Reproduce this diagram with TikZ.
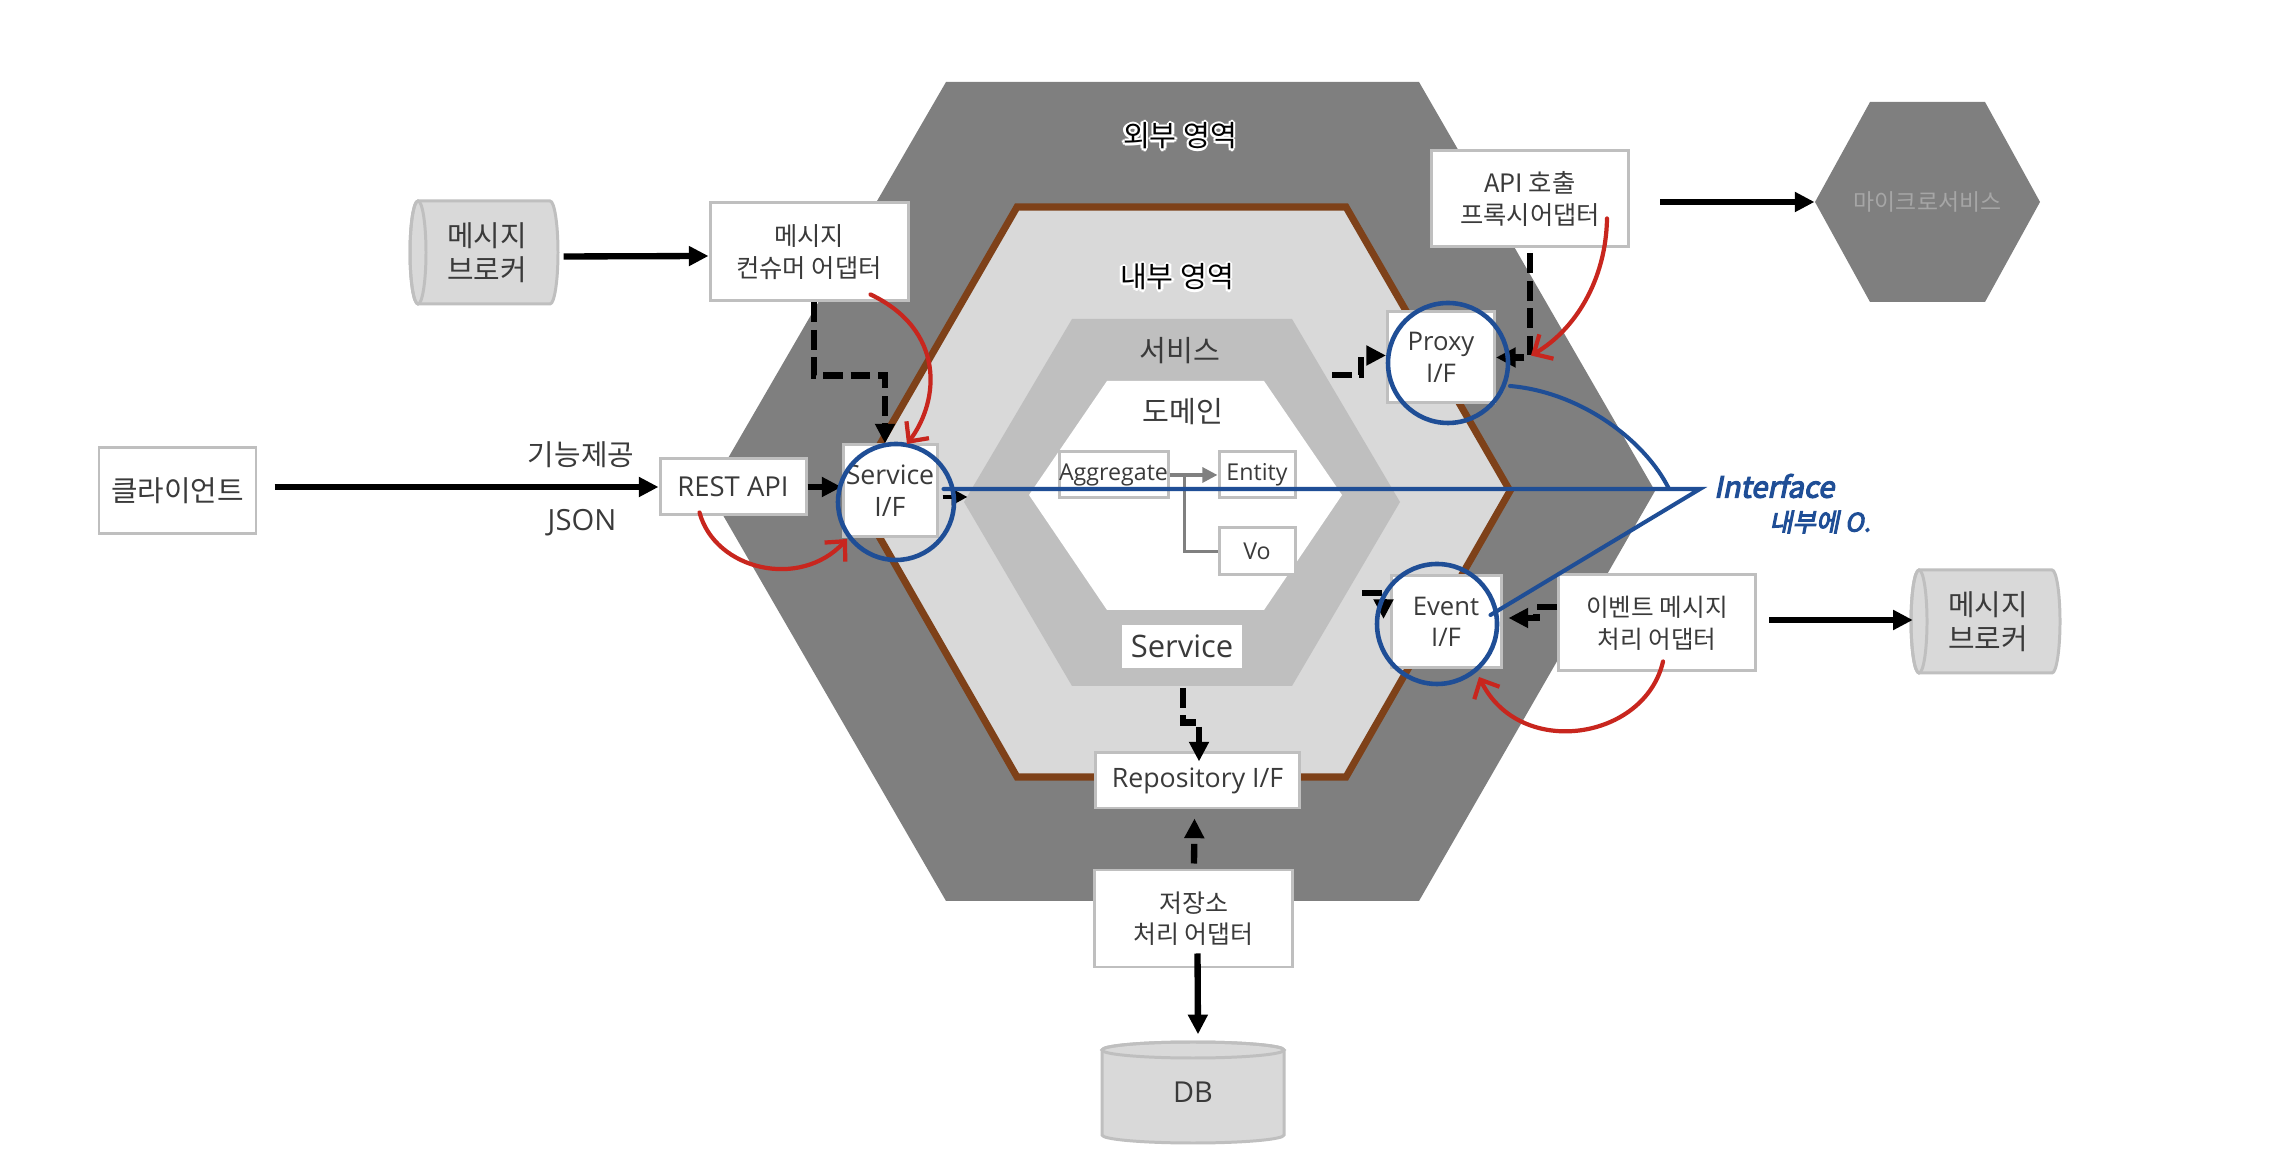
\documentclass[tikz,border=0pt]{standalone}
\usepackage{fontspec}
\setmainfont{Noto Sans CJK KR}
\newfontfamily\latf{Open Sans}
\newfontfamily\handf[FakeSlant=0.2,FakeBold=4]{Noto Sans CJK KR}
\usetikzlibrary{arrows.meta,calc}
\definecolor{outerC}{HTML}{7F7F7F}
\definecolor{innerC}{HTML}{D9D9D9}
\definecolor{servC}{HTML}{BFBFBF}
\definecolor{brownC}{HTML}{7E4119}
\definecolor{blueC}{HTML}{1F4E96}
\definecolor{redC}{HTML}{C8261E}
\definecolor{txtC}{HTML}{3A3A3A}
\definecolor{bordC}{HTML}{BFBFBF}
\definecolor{cylC}{HTML}{D9D9D9}
\definecolor{microT}{HTML}{A6A6A6}
\definecolor{grayA}{HTML}{808080}
\newcommand{\fsz}[2]{\fontsize{#1pt}{#2pt}\selectfont}
\newcommand{\halotxt}[1]{%
\makebox[0pt][l]{\color{white}\hspace*{0.6pt}#1}%
\makebox[0pt][l]{\color{white}\hspace*{-0.6pt}#1}%
\makebox[0pt][l]{\color{white}\raisebox{0.6pt}{#1}}%
\makebox[0pt][l]{\color{white}\raisebox{-0.6pt}{#1}}%
\makebox[0pt][l]{\color{white}\hspace*{0.42pt}\raisebox{0.42pt}{#1}}%
\makebox[0pt][l]{\color{white}\hspace*{-0.42pt}\raisebox{-0.42pt}{#1}}%
\makebox[0pt][l]{\color{white}\hspace*{0.42pt}\raisebox{-0.42pt}{#1}}%
\makebox[0pt][l]{\color{white}\hspace*{-0.42pt}\raisebox{0.42pt}{#1}}%
#1}
\begin{document}
\begin{tikzpicture}[x=0.01cm,y=-0.01cm,
  box/.style={draw=bordC,line width=0.85pt,fill=white,inner sep=0pt,align=center,text=txtC},
  wh/.style 2 args={minimum width=#1*0.01cm,minimum height=#2*0.01cm},
  ring/.style={circle,draw=blueC,line width=1.3pt,minimum size=#1*0.01cm,inner sep=0pt},
  arr/.style={line width=1.8pt,-{Triangle[length=5.6pt,width=5.4pt]}},
  darr/.style={arr,dash pattern=on 5.6pt off 2.2pt},
  redarr/.style={draw=redC,line width=1.2pt,line cap=round,-{Straight Barb[length=4.2pt,width=8pt]}},
  blueL/.style={draw=blueC,line width=1.15pt,line cap=round},
  garr/.style={draw=grayA,line width=1.3pt,-{Triangle[length=4.3pt,width=4.2pt]}},
  gline/.style={draw=grayA,line width=0.9pt},
  lbl/.style={text=txtC,inner sep=0pt},
  cyl/.style={fill=cylC,draw=bordC,line width=0.85pt}
]
\useasboundingbox (0,0) rectangle (2276,1168);
% hexagons
\fill[outerC] (946,82) -- (1419,82) -- (1655,491) -- (1419,901) -- (946,901) -- (709,491) -- cycle;
\filldraw[fill=innerC,draw=brownC,line width=2pt] (1017,207) -- (1346,207) -- (1510,491) -- (1346,777) -- (1017,777) -- (853,491) -- cycle;
\fill[servC] (1072,319) -- (1292,319) -- (1400,502) -- (1292,686) -- (1072,686) -- (964,502) -- cycle;
\fill[white] (1107,381) -- (1264,381) -- (1342,495) -- (1264,610) -- (1107,610) -- (1029,495) -- cycle;
\fill[outerC] (1870,102) -- (1985,102) -- (2040,202) -- (1985,302) -- (1870,302) -- (1815,202) -- cycle;
\node[text=microT,inner sep=0pt,font=\fsz{6.5}{8}] (micro) at (1927.5,202) {마이크로서비스};
% area labels
\node[inner sep=0pt,font=\fsz{8.3}{10}] (outerL) at (1180,136) {\halotxt{외부 영역}};
\node[inner sep=0pt,font=\fsz{8.3}{10}] (innerL) at (1177,277) {\halotxt{내부 영역}};
\node[lbl,font=\fsz{8.3}{10}] (servL) at (1180,351) {서비스};
\node[lbl,font=\fsz{8.3}{10}] (domL) at (1183,412) {도메인};
% cylinders
\filldraw[cyl] (418,201) -- (550,201) arc[start angle=-90,end angle=90,x radius=8,y radius=51.5] -- (418,304) arc[start angle=90,end angle=270,x radius=8,y radius=51.5] -- cycle;
\draw[bordC,line width=0.85pt] (418,252.5) ellipse[x radius=8,y radius=51.5];
\node[lbl,wh={148}{103},align=center,font=\fsz{8.2}{9.6}] (brokerL) at (487,252.5) {메시지\\브로커};
\filldraw[cyl] (1919,570) -- (2052,570) arc[start angle=-90,end angle=90,x radius=8,y radius=51.5] -- (1919,673) arc[start angle=90,end angle=270,x radius=8,y radius=51.5] -- cycle;
\draw[bordC,line width=0.85pt] (1919,621.5) ellipse[x radius=8,y radius=51.5];
\node[lbl,wh={149}{103},align=center,font=\fsz{8.2}{9.6}] (brokerR) at (1988,621.5) {메시지\\브로커};
\filldraw[cyl] (1102,1050) -- (1102,1135) arc[start angle=180,end angle=0,x radius=91,y radius=8] -- (1284,1050) arc[start angle=0,end angle=-180,x radius=91,y radius=8] -- cycle;
\draw[bordC,line width=0.85pt] (1193,1050) ellipse[x radius=91,y radius=8];
\node[lbl,wh={182}{101},font=\latf\fsz{8.2}{9}] (db) at (1193,1092.5) {\raisebox{-4pt}{DB}};
% boxes
\node[box,wh={157}{86},font=\fsz{8.2}{10}] (client) at (177.5,491) {클라이언트};
\node[box,wh={146}{56},font=\latf\fsz{7.8}{10}] (rest) at (733,487) {REST API};
\node[box,wh={94}{92},font=\latf\fsz{7.6}{9}] (svc) at (890,491) {Service\\I/F};
\node[box,wh={198}{98},font=\fsz{7.2}{9}] (cons) at (809,252) {메시지\\컨슈머 어댑터};
\node[box,wh={197}{96},font=\fsz{7.2}{9}] (api) at (1530,199) {API 호출\\프록시어댑터};
\node[box,wh={107}{91},font=\latf\fsz{7.3}{9}] (proxy) at (1441,357.5) {Proxy\\I/F};
\node[box,wh={110}{92},font=\latf\fsz{7.3}{9}] (evbox) at (1446,622) {Event\\I/F};
\node[box,wh={197}{96},font=\fsz{7}{9}] (evadp) at (1657,623) {이벤트 메시지\\처리 어댑터};
\node[box,wh={204}{55},font=\latf\fsz{7.6}{9}] (repo) at (1197.5,780.5) {Repository I/F};
\node[box,wh={198}{97},font=\fsz{7.1}{9}] (store) at (1193.5,918.5) {저장소\\처리 어댑터};
\node[box,wh={109}{46},font=\latf\fsz{6.6}{8}] (agg) at (1113.5,475) {Aggregate};
\node[box,wh={76}{46},font=\latf\fsz{6.6}{8}] (ent) at (1257,475) {Entity};
\node[box,wh={76}{47},font=\latf\fsz{6.6}{8}] (vo) at (1257,551.5) {Vo};
\node[fill=white,inner sep=0pt,wh={120}{43},text=txtC,font=\latf\fsz{8.8}{10}] (svcl) at (1182,646.7) {Service};
% labels
\node[lbl,font=\fsz{8.2}{9}] (lf) at (581,455) {기능제공};
\node[lbl,font=\latf\fsz{8.3}{9}] (lj) at (582,523) {JSON};
% domain connectors
\draw[garr] (agg.east) -- (ent.west);
\draw[gline] ($(agg.east)+(15,0)$) |- (vo.west);
% black connectors
\draw[arr,shorten <=0.17cm] (client.east |- rest.west) -- (rest.west);
\draw[arr] (rest.east) -- (rest.east -| svc.west);
\draw[arr] ($(brokerL.east)+(2,4)$) -- ($(cons.west)+(0,4)$);
\draw[darr] ($(cons.south)+(5,0)$) |- ($(svc.north)+(-5,-68)$) -- ($(svc.north)+(-5,0)$);
\draw[arr,line width=1.4pt,-{Triangle[length=4.5pt,width=4.5pt]}] ($(svc.east)+(4,6)$) -- ($(svc.east)+(29,6)$);
\coordinate (pl) at (1332,375);
\draw[darr] (pl) -| ($(proxy.west)+(-25,-2)$) -- ($(proxy.west)+(0,-2)$);
\draw[darr,shorten <=0.05cm] (api.south) |- (proxy.east);
\draw[darr] ($(evadp.west)+(0,-16)$) -| ($(evbox.east)+(34,-4)$) -- ($(evbox.east)+(6,-4)$);
\coordinate (el) at (1362,593);
\draw[darr] (el) -| ($(evbox.west)+(-6,-3)$);
\draw[darr] ($(svcl.south)+(1,19)$) |- ($(repo.north)+(1.5,-29)$) -- ($(repo.north)+(1.5,10)$);
\draw[darr] ($(store.north)+(0.5,-5)$) -- ($(repo.south)+(-3,9)$);
\draw[arr] ($(store.south)+(4,-15)$) -- ($(db.north)+(5,-7)$);
\draw[arr] ($(api.east)+(30,3)$) -- ($(micro)+(-113,0)$);
\draw[arr] ($(evadp.east)+(12,-3)$) -- ($(brokerR.west)+(0,-1.5)$);
% rings
\node[ring=116] (svcring) at (896,502) {};
\node[ring=120] (proxyring) at (1448,363) {};
\node[ring=120] (evring) at (1437,624) {};
% blue lines
\coordinate (tip) at (1700,489);
\draw[blueL] ($(svc.east)+(5,-2)$) -- (tip) -- ($(evbox.east)+(-12,-7)$);
\draw[blueL] ($(proxyring)+(62,23)$) .. controls (1580,392) and (1645,440) .. ($(tip)+(-31,0)$);
\node[text=blueC,inner sep=0pt,font=\handf\fsz{8.3}{10}] (hw1) at (1774,486) {Interface};
\node[text=blueC,inner sep=0pt,font=\handf\fsz{7.2}{9}] (hw2) at (1820,522) {내부에 O.};
% red arrows
\draw[redarr] ($(cons.south east)+(-39,-8)$) .. controls (945,330) and (940,400) .. ($(svcring)+(11,-58)$);
\draw[redarr] ($(rest.south west)+(41,-4)$) .. controls (715,570) and (800,590) .. ($(svcring)+(-49,37)$);
\draw[redarr] ($(api.south east)+(-23,-30)$) .. controls (1606,280) and (1575,330) .. ($(proxy.east)+(35,-2)$);
\draw[redarr] ($(evadp.south)+(6,-11)$) .. controls (1645,740) and (1520,760) .. ($(evring)+(42,53)$);
\end{tikzpicture}
\end{document}
